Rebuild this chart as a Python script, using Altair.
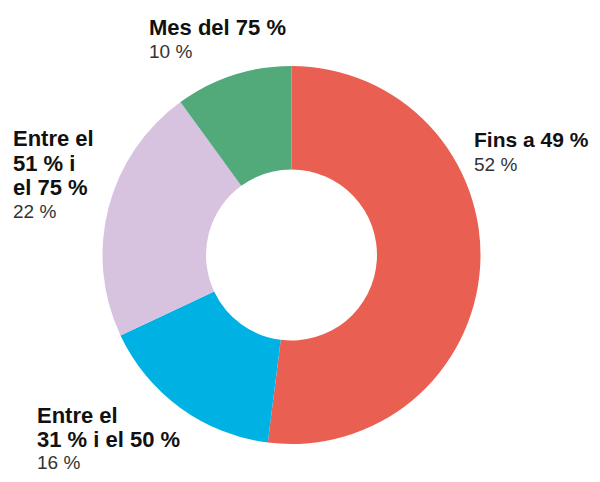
import altair as alt
import pandas as pd

# Data
categories = ["Fins a 49 %", "Entre el 31 % i el 50 %", "Entre el 51 % i el 75 %", "Mes del 75 %"]
values = [52, 16, 22, 10]
value_labels = ["52 %", "16 %", "22 %", "10 %"]
colors = ["#E95F52", "#00B2E4", "#D7C2E0", "#52A97A"]

# Label line breaks (text only)
label_lines = [
    ["Fins a 49 %"],
    ["Entre el", "31 % i el 50 %"],
    ["Entre el", "51 % i", "el 75 %"],
    ["Mes del 75 %"],
]

# Layout (pixel positions of annotation blocks, view coordinates)
label_x = [466, 29, 5, 141]
label_top_baseline = [139, 415, 138, 27]
bold_steps = [24.5, 24, 24.5, 24.5]
value_steps = [24, 21.5, 23, 23]
bold_sizes = [21, 22, 22, 22]

df = pd.DataFrame({
    "category": categories,
    "value": values,
    "order": list(range(len(categories))),
})

rows = []
for i, lines in enumerate(label_lines):
    y = label_top_baseline[i]
    for j, ln in enumerate(lines):
        if j > 0:
            y += bold_steps[i]
        rows.append({"text": ln, "px": label_x[i], "py": y, "kind": "bold", "fs": bold_sizes[i]})
    y += value_steps[i]
    rows.append({"text": value_labels[i], "px": label_x[i], "py": y, "kind": "value", "fs": 19})
labels = pd.DataFrame(rows)

cx, cy = 283.5, 247

donut = alt.Chart(df).mark_arc(outerRadius=189, innerRadius=85.5, stroke=None).encode(
    theta=alt.Theta("value:Q", stack=True),
    color=alt.Color("category:N", scale=alt.Scale(domain=categories, range=colors), legend=None),
    order=alt.Order("order:Q"),
    x=alt.value(cx),
    y=alt.value(cy),
)

bold_text = alt.Chart(labels).transform_filter(alt.datum.kind == "bold").mark_text(
    align="left", baseline="alphabetic", font="Liberation Sans", fontWeight="bold",
    color="#111111"
).encode(
    x=alt.X("px:Q", scale=None, axis=None),
    y=alt.Y("py:Q", scale=None, axis=None),
    size=alt.Size("fs:Q", scale=None, legend=None),
    text="text:N",
)

value_text = alt.Chart(labels).transform_filter(alt.datum.kind == "value").mark_text(
    align="left", baseline="alphabetic", font="Liberation Sans", fontWeight="normal",
    fontSize=19, color="#333333"
).encode(
    x=alt.X("px:Q", scale=None, axis=None),
    y=alt.Y("py:Q", scale=None, axis=None),
    text="text:N",
)

chart = alt.layer(donut, bold_text, value_text).properties(
    width=584, height=466,
    autosize=alt.AutoSizeParams(type="none"),
    padding=0,
).configure_view(stroke=None)

chart.save("out.html", embed_options={"renderer": "svg", "actions": False})
